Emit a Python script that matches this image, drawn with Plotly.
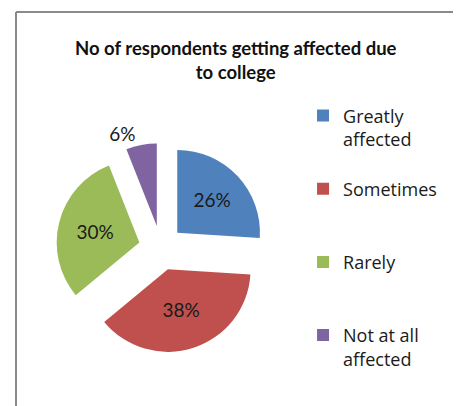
import plotly.graph_objects as go

categories = ["Greatly<br>affected<br> ", "Sometimes<br> <br> ", "Rarely<br> <br> ", "Not at all<br>affected<br> "]
values = [26, 38, 30, 6]
colors = ["#4F81BD", "#C0504D", "#9BBB59", "#8064A2"]
title_text = "<b>No of respondents getting affected due<br>to college</b>"

W, H = 461, 406

# pie placement (pixels)
cx, cy, box = 153, 240, 210

fig = go.Figure()
fig.add_trace(go.Pie(
    labels=categories,
    values=values,
    marker=dict(colors=colors, line=dict(width=0)),
    sort=False,
    direction="clockwise",
    rotation=0,
    pull=[0.27] * len(values),
    textinfo="percent",
    texttemplate="%{percent:.0%}",
    textposition=["inside", "inside", "inside", "outside"],
    insidetextorientation="horizontal",
    textfont=dict(family="Lato", size=19, color="#1a1a1a"),
    domain=dict(x=[(cx - box / 2) / W, (cx + box / 2) / W],
                y=[1 - (cy + box / 2) / H, 1 - (cy - box / 2) / H]),
    hoverinfo="label+percent",
))

fig.update_layout(
    width=W, height=H,
    margin=dict(l=0, r=0, t=0, b=0),
    paper_bgcolor="white",
    plot_bgcolor="white",
    showlegend=True,
    legend=dict(
        x=0.64, y=0.78, xanchor="left", yanchor="top",
        font=dict(family="Open Sans", size=18, color="#1a1a1a"),
        valign="top",
        bgcolor="rgba(0,0,0,0)",
    ),
    annotations=[dict(
        text=title_text, x=0.495, y=1 - 52.5 / H, xref="paper", yref="paper",
        xanchor="center", yanchor="middle", showarrow=False,
        font=dict(family="Lato", size=18.5, color="#111"),
    )],
    shapes=[
        dict(type="line", xref="paper", yref="paper", x0=8 / W, x1=1, y0=1 - 4 / H, y1=1 - 4 / H,
             line=dict(color="#8a8a8a", width=2)),
        dict(type="line", xref="paper", yref="paper", x0=8 / W, x1=8 / W, y0=0, y1=1 - 4 / H,
             line=dict(color="#8a8a8a", width=2)),
    ],
)

fig.write_html("out.html")
